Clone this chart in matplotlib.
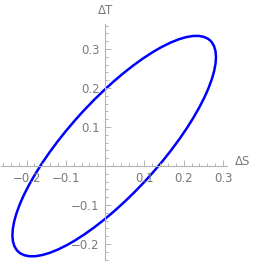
import numpy as np
import matplotlib
matplotlib.use('Agg')
import matplotlib.pyplot as plt
from matplotlib.patches import Ellipse
from matplotlib.ticker import FixedLocator, MultipleLocator

# ellipse (data units)
center = (0.023, 0.051)
width = 0.729
height = 0.237
angle = 48.1

x_ticks = [-0.2, -0.1, 0.1, 0.2, 0.3]
y_ticks = [-0.2, -0.1, 0.1, 0.2, 0.3]
x_label = 'ΔS'
y_label = 'ΔT'

GREY = '#b3b3b3'
TXT = '#7a7a7a'

fig = plt.figure(figsize=(2.56, 2.72), dpi=100)
ax = fig.add_axes([1 / 256, 0.0456, 226 / 256, 0.8676])
ax.set_xlim(-0.265, 0.31)
ax.set_ylim(-0.24, 0.365)

ax.add_patch(Ellipse(center, width, height, angle=angle,
                     fill=False, edgecolor='#0000ff', linewidth=1.8))

for s in ['top', 'right']:
    ax.spines[s].set_visible(False)
for s in ['left', 'bottom']:
    ax.spines[s].set_position('zero')
    ax.spines[s].set_color(GREY)
    ax.spines[s].set_linewidth(0.8)

ax.xaxis.set_major_locator(FixedLocator(x_ticks))
ax.yaxis.set_major_locator(FixedLocator(y_ticks))
ax.xaxis.set_minor_locator(MultipleLocator(0.02))
ax.yaxis.set_minor_locator(MultipleLocator(0.02))
ax.set_xticklabels([f'{v:g}'.replace('-', '−') for v in x_ticks])
ax.set_yticklabels([f'{v:g}'.replace('-', '−') for v in y_ticks])
ax.tick_params(which='both', direction='in', color=GREY, labelcolor=TXT,
               labelsize=8.5, width=0.7)
ax.tick_params(which='major', length=4, pad=4)
ax.tick_params(which='minor', length=2.2)

ax.annotate(y_label, xy=(0, 0.365), xytext=(0, 5), textcoords='offset points',
            ha='center', va='bottom', color=TXT, fontsize=8.5)
ax.annotate(x_label, xy=(0.31, 0), xytext=(6, 3), textcoords='offset points',
            ha='left', va='center', color=TXT, fontsize=8.5)

fig.savefig('out.png', dpi=100)
